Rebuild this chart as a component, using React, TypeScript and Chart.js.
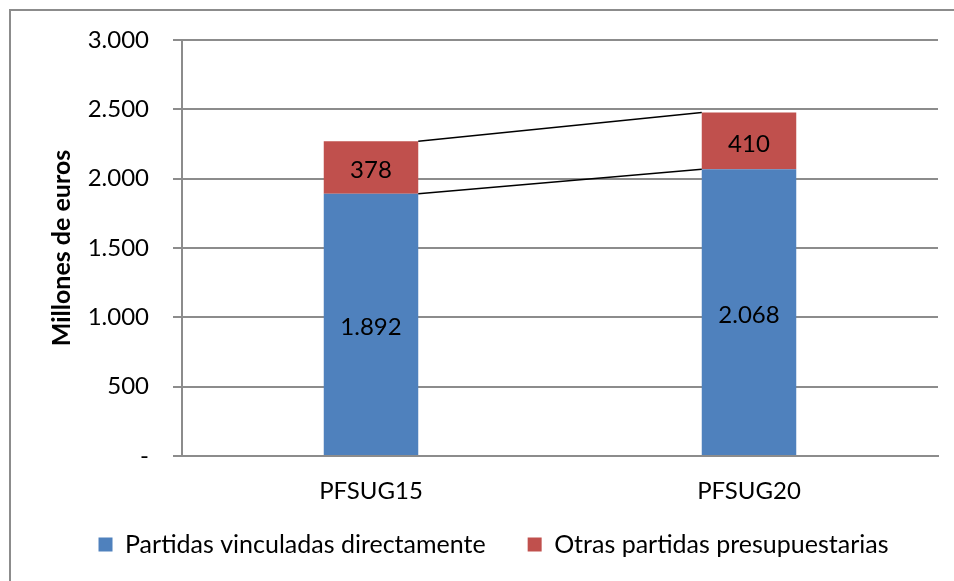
import React, { useEffect, useRef } from 'react';
import { Chart, registerables } from 'chart.js';

Chart.register(...registerables);

const categories = ['PFSUG15', 'PFSUG20'];
const partidasVinculadas = [1892, 2068];
const otrasPartidas = [378, 410];
const seriesNames = ['Partidas vinculadas directamente', 'Otras partidas presupuestarias'];
const seriesColors = ['#4F81BD', '#C0504D'];
const yTicks = [0, 500, 1000, 1500, 2000, 2500, 3000];
const yTitle = 'Millones de euros';

const FONT = 'Lato';
const GRID = '#8c8c8c';

const fmt = (v: number) =>
  v === 0 ? '-' : Math.round(v).toString().replace(/\B(?=(\d{3})+(?!\d))/g, '.');

const outerBorder = {
  id: 'outerBorder',
  beforeDraw(chart: any) {
    const ctx = chart.ctx;
    ctx.save();
    ctx.fillStyle = '#ffffff';
    ctx.fillRect(0, 0, chart.width, chart.height);
    ctx.strokeStyle = GRID;
    ctx.lineWidth = 2;
    ctx.strokeRect(10, 10, chart.width + 50, chart.height + 50);
    ctx.restore();
  },
};

const seriesLinesAndLabels = {
  id: 'seriesLinesAndLabels',
  afterDatasetsDraw(chart: any) {
    const ctx = chart.ctx;
    const metas = chart.getSortedVisibleDatasetMetas();
    ctx.save();
    ctx.strokeStyle = '#000';
    ctx.lineWidth = 1.5;
    for (const meta of metas) {
      for (let i = 0; i < meta.data.length - 1; i++) {
        const a = meta.data[i];
        const b = meta.data[i + 1];
        ctx.beginPath();
        ctx.moveTo(a.x + a.width / 2, a.y);
        ctx.lineTo(b.x - b.width / 2, b.y);
        ctx.stroke();
      }
    }
    ctx.fillStyle = '#000';
    ctx.font = `24px ${FONT}`;
    ctx.textAlign = 'center';
    ctx.textBaseline = 'middle';
    for (const meta of metas) {
      const ds = chart.data.datasets[meta.index];
      meta.data.forEach((el: any, i: number) => {
        ctx.fillText(fmt(ds.data[i] as number), el.x, (el.y + el.base) / 2 + 3);
      });
    }
    ctx.restore();
  },
};

export default function App() {
  const ref = useRef<HTMLCanvasElement | null>(null);

  useEffect(() => {
    if (!ref.current) return;
    Chart.defaults.font.family = FONT;
    Chart.defaults.color = '#000';
    const chart = new Chart(ref.current, {
      type: 'bar',
      data: {
        labels: categories,
        datasets: [
          {
            label: seriesNames[0],
            data: partidasVinculadas,
            backgroundColor: seriesColors[0],
            borderWidth: 0,
            barPercentage: 0.25,
            categoryPercentage: 1,
          },
          {
            label: seriesNames[1],
            data: otrasPartidas,
            backgroundColor: seriesColors[1],
            borderWidth: 0,
            barPercentage: 0.25,
            categoryPercentage: 1,
          },
        ],
      },
      options: {
        animation: false,
        responsive: false,
        devicePixelRatio: 1,
        layout: { padding: { left: 49, right: 16, top: 40, bottom: 14 } },
        plugins: {
          tooltip: { enabled: false },
          legend: {
            position: 'bottom',
            labels: {
              boxWidth: 14,
              boxHeight: 14,
              padding: 42,
              color: '#000',
              font: { family: FONT, size: 25 },
            },
          },
        },
        scales: {
          x: {
            stacked: true,
            grid: { display: false, drawTicks: false },
            border: { display: true, color: GRID, width: 2 },
            ticks: { color: '#000', mirror: true, padding: -50, font: { family: FONT, size: 24 } },
            afterFit: (s: any) => {
              s.height = 34;
            },
          },
          y: {
            stacked: true,
            min: 0,
            max: 3000,
            afterBuildTicks: (s: any) => {
              s.ticks = yTicks.map((v) => ({ value: v }));
            },
            grid: { color: GRID, lineWidth: 2, tickLength: 9, tickColor: GRID, drawTicks: true },
            border: { display: true, color: GRID, width: 2 },
            ticks: {
              color: '#000',
              padding: 24,
              font: { family: FONT, size: 24 },
              callback: (v: any) => fmt(Number(v)),
            },
            title: {
              display: true,
              text: yTitle,
              color: '#000',
              padding: { top: 0, bottom: 0 },
              font: { family: FONT, size: 25, weight: 'bold', lineHeight: 1.05 },
            },
            afterFit: (s: any) => {
              s.width = 133;
            },
          },
        },
      },
      plugins: [outerBorder, seriesLinesAndLabels],
    } as any);
    return () => chart.destroy();
  }, []);

  return (
    <div
      style={{
        position: 'fixed',
        left: 0,
        top: 0,
        width: 954,
        height: 581,
        overflow: 'hidden',
        background: '#fff',
      }}
    >
      <canvas ref={ref} width={954} height={581} style={{ width: 954, height: 581, display: 'block' }} />
    </div>
  );
}
